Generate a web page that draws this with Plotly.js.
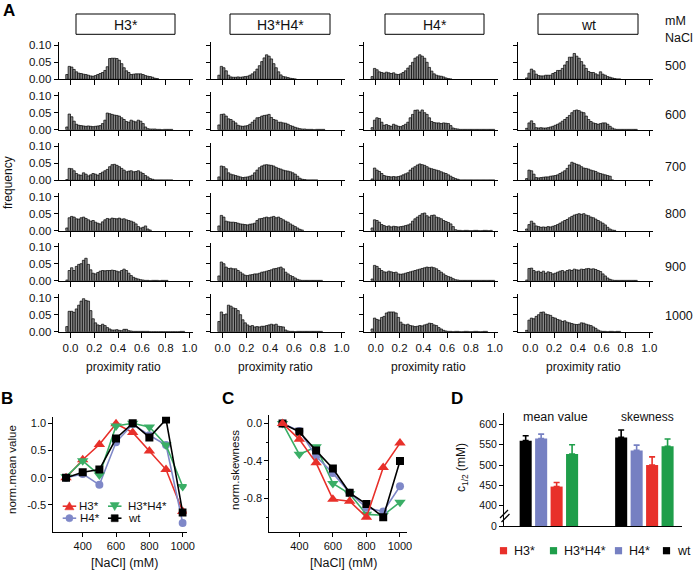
<!DOCTYPE html>
<html><head><meta charset="utf-8">
<script src="https://cdn.plot.ly/plotly-3.0.1.min.js"></script>
<style>html,body{margin:0;padding:0;background:#fff;}#plot{width:697px;height:570px;}</style>
</head><body><div id="plot"></div>
<script>
// ---------- DATA ----------
const groupNames = ['H3*', 'H3*H4*', 'H4*', 'wt'];
const saltLabels = ['500', '600', '700', '800', '900', '1000'];
const binStart = -0.03, binWidth = 0.02;
const xTickVals = [0, 0.2, 0.4, 0.6, 0.8, 1.0];
const yTickVals = [0, 0.05, 0.10];

// histograms (frequency per 0.02 bin, first bin centred at -0.03)
const h3_500 = [0.014,0.038,0.036,0.029,0.022,0.018,0.017,0.015,0.014,0.012,0.010,0.009,0.011,0.014,0.017,0.020,0.026,0.037,0.061,0.062,0.062,0.061,0.056,0.046,0.034,0.025,0.020,0.014,0.015,0.016,0.016,0.016,0.014,0.011,0.009,0.008,0.006,0.003,0.002];
const h3_600 = [0.008,0.046,0.038,0.025,0.016,0.013,0.012,0.011,0.010,0.011,0.010,0.009,0.010,0.011,0.012,0.018,0.028,0.049,0.047,0.045,0.043,0.042,0.040,0.035,0.030,0.024,0.022,0.028,0.025,0.023,0.028,0.025,0.018,0.008,0.003,0.002,0.002,0.002,0.001,0.001,0,0.001,0.001,0.001,0.001];
const h3_700 = [0.002,0.035,0.034,0.028,0.020,0.016,0.015,0.022,0.018,0.013,0.016,0.020,0.018,0.015,0.020,0.024,0.028,0.032,0.040,0.046,0.047,0.044,0.040,0.035,0.030,0.025,0.027,0.028,0.025,0.026,0.028,0.024,0.020,0.014,0.010,0.005,0.003,0.001,0.001,0.001,0.001,0.001,0.001,0.001,0.001];
const h3_800 = [0.008,0.038,0.042,0.040,0.035,0.034,0.038,0.040,0.036,0.032,0.028,0.030,0.025,0.022,0.020,0.026,0.032,0.036,0.034,0.037,0.036,0.035,0.037,0.034,0.035,0.032,0.030,0.028,0.025,0.020,0.012,0.008,0.010,0.014,0.005,0.002];
const h3_900 = [0.002,0.030,0.038,0.030,0.042,0.048,0.050,0.060,0.066,0.048,0.032,0.022,0.020,0.024,0.028,0.030,0.029,0.030,0.030,0.031,0.030,0.028,0.026,0.030,0.034,0.030,0.022,0.015,0.010,0.007,0.005,0.003,0.002,0.001,0.001,0,0.001,0.001,0.001,0,0.001,0.001,0.001];
const h3_1000 = [0.015,0.060,0.060,0.057,0.067,0.078,0.090,0.097,0.092,0.090,0.062,0.038,0.026,0.020,0.018,0.022,0.018,0.012,0.008,0.005,0.005,0.006,0.004,0.003,0.007,0.007,0.003,0.002,0.001,0.001,0.001,0.001,0.001,0.001,0.001,0,0,0,0,0,0,0,0,0,0,0,0,0,0.001,0.001];

const hh_500 = [0.012,0.038,0.034,0.025,0.012,0.007,0.006,0.006,0.007,0.006,0.007,0.008,0.009,0.012,0.016,0.022,0.030,0.040,0.052,0.063,0.072,0.068,0.060,0.046,0.034,0.022,0.013,0.008,0.007,0.005,0.003,0.002,0.001];
const hh_600 = [0.014,0.045,0.046,0.040,0.032,0.030,0.025,0.020,0.013,0.011,0.010,0.011,0.012,0.016,0.022,0.028,0.035,0.036,0.040,0.042,0.043,0.045,0.036,0.030,0.028,0.022,0.022,0.020,0.019,0.016,0.012,0.010,0.007,0.005,0.003,0.002,0.002,0.001,0.001,0.001,0,0.001,0.001,0.001,0.001];
const hh_700 = [0.010,0.042,0.040,0.034,0.022,0.018,0.016,0.014,0.012,0.010,0.008,0.009,0.010,0.012,0.015,0.022,0.030,0.037,0.042,0.045,0.046,0.045,0.044,0.042,0.038,0.035,0.033,0.030,0.028,0.027,0.025,0.022,0.018,0.012,0.006,0.003,0.002,0.001,0.001,0.001,0.001,0.001];
const hh_800 = [0.014,0.045,0.040,0.028,0.026,0.025,0.025,0.024,0.022,0.020,0.019,0.018,0.017,0.019,0.020,0.022,0.030,0.035,0.036,0.038,0.040,0.038,0.040,0.042,0.038,0.040,0.036,0.032,0.028,0.025,0.020,0.016,0.012,0.008,0.004,0.002];
const hh_900 = [0.014,0.055,0.050,0.040,0.036,0.037,0.035,0.035,0.030,0.025,0.020,0.016,0.015,0.017,0.018,0.020,0.020,0.022,0.025,0.026,0.028,0.030,0.032,0.035,0.036,0.038,0.040,0.035,0.025,0.020,0.015,0.012,0.008,0.004,0.002,0.001,0.001,0.001,0.001,0.001,0.001,0.001,0.001,0.001];
const hh_1000 = [0.030,0.058,0.050,0.052,0.078,0.075,0.070,0.068,0.062,0.050,0.035,0.026,0.020,0.016,0.018,0.014,0.015,0.014,0.016,0.016,0.018,0.020,0.022,0.020,0.022,0.016,0.015,0.014,0.005,0.002,0.001,0.001,0,0.001,0.001,0.001,0.001,0.001,0.001,0.001,0.001,0.001,0.001,0.001];

const h4_500 = [0.008,0.032,0.028,0.022,0.020,0.018,0.021,0.019,0.017,0.019,0.015,0.014,0.016,0.020,0.025,0.033,0.040,0.050,0.062,0.066,0.072,0.068,0.062,0.050,0.035,0.024,0.016,0.012,0.010,0.009,0.007,0.004,0.002,0.001];
const h4_600 = [0.006,0.028,0.035,0.033,0.022,0.013,0.015,0.012,0.010,0.016,0.013,0.010,0.009,0.012,0.016,0.022,0.035,0.045,0.057,0.058,0.052,0.058,0.050,0.045,0.035,0.024,0.021,0.020,0.020,0.018,0.020,0.019,0.018,0.012,0.005,0.003,0.002,0.001,0.001,0.001,0.001,0.001,0.001,0.001,0.001,0.001,0.001,0.001,0.001,0.001,0.001,0.001];
const h4_700 = [0.004,0.036,0.030,0.026,0.020,0.014,0.012,0.011,0.010,0.011,0.010,0.011,0.013,0.016,0.019,0.022,0.030,0.036,0.040,0.045,0.048,0.046,0.044,0.040,0.036,0.034,0.032,0.030,0.028,0.025,0.022,0.020,0.016,0.012,0.008,0.005,0.003,0.001,0.001,0.001,0.001,0.001,0.001,0.001,0.001,0.001,0.001,0.001,0.001,0.001,0.001,0.001];
const h4_800 = [0.008,0.032,0.030,0.025,0.018,0.015,0.012,0.014,0.011,0.013,0.012,0.011,0.012,0.013,0.015,0.017,0.020,0.028,0.035,0.040,0.045,0.050,0.052,0.044,0.040,0.045,0.046,0.040,0.038,0.035,0.030,0.027,0.024,0.020,0.012,0.003,0.001,0.001,0,0.001,0.001,0,0,0.001,0.001,0,0,0.001,0.001,0,0.001];
const h4_900 = [0.005,0.045,0.042,0.036,0.030,0.026,0.025,0.028,0.026,0.024,0.025,0.020,0.019,0.020,0.022,0.024,0.026,0.028,0.030,0.032,0.034,0.036,0.038,0.040,0.039,0.040,0.038,0.035,0.030,0.025,0.020,0.015,0.012,0.010,0.006,0.003,0.002,0.001,0.001,0.001,0.001,0.001,0.001,0.001,0.001,0.001,0.001,0.001,0.001,0.001,0.001,0.001];
const h4_1000 = [0.008,0.040,0.036,0.034,0.042,0.045,0.055,0.058,0.058,0.058,0.055,0.042,0.028,0.022,0.020,0.022,0.018,0.017,0.015,0.016,0.018,0.017,0.020,0.022,0.025,0.024,0.020,0.018,0.012,0.008,0.004,0.002,0.001,0.001,0,0.001,0.001,0,0,0.001,0.001,0,0,0.001,0.001,0,0,0.001,0.001];

const wt_500 = [0.004,0.018,0.030,0.025,0.015,0.011,0.010,0.010,0.012,0.012,0.012,0.017,0.020,0.026,0.026,0.032,0.042,0.052,0.065,0.065,0.076,0.068,0.062,0.052,0.042,0.032,0.023,0.020,0.020,0.016,0.013,0.022,0.015,0.012,0.008,0.006,0.004,0.002,0.001,0.001];
const wt_600 = [0.004,0.020,0.026,0.018,0.006,0.005,0.006,0.005,0.005,0.006,0.008,0.010,0.013,0.016,0.020,0.025,0.030,0.036,0.042,0.050,0.056,0.058,0.056,0.052,0.050,0.040,0.030,0.024,0.020,0.018,0.016,0.018,0.020,0.020,0.016,0.010,0.005,0.002,0.001,0.001,0.001,0.001,0.001,0.001,0.001,0.001,0.001];
const wt_700 = [0.005,0.030,0.028,0.018,0.008,0.007,0.008,0.009,0.010,0.010,0.012,0.013,0.014,0.016,0.020,0.024,0.028,0.035,0.045,0.053,0.050,0.047,0.045,0.040,0.036,0.035,0.033,0.030,0.028,0.026,0.022,0.020,0.018,0.016,0.014,0.012,0.001];
const wt_800 = [0.005,0.018,0.028,0.022,0.014,0.012,0.010,0.011,0.010,0.012,0.011,0.013,0.015,0.018,0.022,0.026,0.030,0.033,0.038,0.042,0.046,0.048,0.050,0.048,0.050,0.046,0.044,0.040,0.038,0.034,0.030,0.026,0.022,0.017,0.010,0.005,0.002,0.001];
const wt_900 = [0.002,0.036,0.037,0.030,0.026,0.028,0.024,0.028,0.022,0.026,0.024,0.020,0.022,0.025,0.028,0.030,0.026,0.030,0.032,0.030,0.034,0.032,0.031,0.034,0.033,0.035,0.036,0.034,0.035,0.033,0.030,0.027,0.020,0.014,0.008,0.004,0.002,0.001,0.001,0.001,0.001,0.001,0.001,0.001,0.001,0.001,0.001];
const wt_1000 = [0.004,0.034,0.040,0.038,0.045,0.050,0.057,0.058,0.052,0.050,0.048,0.042,0.040,0.036,0.034,0.030,0.032,0.028,0.026,0.024,0.022,0.021,0.022,0.026,0.025,0.022,0.020,0.018,0.014,0.010,0.005,0.002,0.001,0.001,0,0.001,0.001,0,0.001,0.001];

// panel B / C
const nacl = [300, 400, 500, 600, 700, 800, 900, 1000];
const meanH3   = [0.00, 0.33, 0.61, 0.99, 0.83, 0.49, 0.15, -0.62];
const meanH3H4 = [0.02, 0.31, 0.05, 0.95, 1.00, 0.93, 0.60, -0.16];
const meanH4   = [0.00, 0.07, -0.13, 0.65, 0.98, 0.78, 0.60, -0.83];
const meanWt   = [0.00, 0.10, 0.15, 0.72, 1.00, 0.74, 1.07, -0.64];
const skewH3   = [0.00, -0.17, -0.42, -0.81, -0.83, -1.00, -0.47, -0.21];
const skewH3H4 = [0.00, -0.33, -0.25, -0.64, -0.75, -0.97, -0.98, -0.84];
const skewH4   = [0.00, -0.08, -0.35, -0.53, -0.74, -0.90, -0.94, -0.67];
const skewWt   = [0.00, -0.09, -0.29, -0.48, -0.74, -0.86, -1.00, -0.40];

// panel D (order H3*, H3*H4*, H4*, wt)
const dCategories = ['mean value', 'skewness'];
const cHalfMean    = [447, 527, 565, 560];
const cHalfMeanErr = [10, 23, 11, 12];
const cHalfSkew    = [500, 546, 536, 568];
const cHalfSkewErr = [20, 18, 13, 18];
const dTickVals = [350, 400, 450, 500, 550, 600];
const dTickText = ['0', '400', '450', '500', '550', '600'];

// ---------- LAYOUT HELPERS ----------
const W = 697, H = 570;
const X = v => v / W;
const Y = v => 1 - v / H;
const FONT = 'Liberation Sans, Arial, Helvetica, sans-serif';
const lineColors = ['#e8302a', '#3aae66', '#7f88c8', '#000000'];
const barColors  = ['#e8302a', '#1f9e4a', '#7680c2', '#000000'];
const symbols = ['triangle-up', 'triangle-down', 'circle', 'square'];
const symSize = [10, 10, 8, 8];

const histGrid = [
  [h3_500, hh_500, h4_500, wt_500],
  [h3_600, hh_600, h4_600, wt_600],
  [h3_700, hh_700, h4_700, wt_700],
  [h3_800, hh_800, h4_800, wt_800],
  [h3_900, hh_900, h4_900, wt_900],
  [h3_1000, hh_1000, h4_1000, wt_1000]
];
const colZero = [70.5, 222.6, 375.8, 530.3];
const colScale = 119;
const rowZero = [79.3, 129.7, 180.3, 230.7, 280.7, 331.7];
const rowHeight = 37.4;

const data = [];
const layout = {
  width: W, height: H, margin: {l: 0, r: 0, t: 0, b: 0},
  paper_bgcolor: '#fff', plot_bgcolor: 'rgba(0,0,0,0)',
  showlegend: false, barmode: 'group', bargap: 0.352, bargroupgap: 0.22,
  font: {family: FONT, color: '#111', size: 11},
  annotations: [], shapes: []
};
const axName = (k, i) => k + (i === 1 ? '' : i);

let idx = 0;
for (let r = 0; r < 6; r++) {
  for (let c = 0; c < 4; c++) {
    idx++;
    data.push({
      type: 'bar', x0: binStart, dx: binWidth, width: binWidth, y: histGrid[r][c],
      xaxis: axName('x', idx), yaxis: axName('y', idx),
      marker: {color: '#8a8a8a', line: {color: '#000', width: 0.7}},
      hoverinfo: 'skip', showlegend: false
    });
    layout[axName('xaxis', idx)] = {
      domain: [X(colZero[c] - 0.1 * colScale), X(colZero[c] + 1.03 * colScale)],
      range: [-0.1, 1.03], anchor: axName('y', idx),
      tickvals: xTickVals, ticktext: xTickVals.map(v => v.toFixed(1)),
      showticklabels: r === 5, ticks: 'outside', ticklen: 5, tickwidth: 1, tickcolor: '#000',
      showline: true, linecolor: '#000', linewidth: 1, showgrid: false, zeroline: false,
      tickfont: {size: 11.5, family: FONT, color: '#111'}, fixedrange: true
    };
    layout[axName('yaxis', idx)] = {
      domain: [Y(rowZero[r]), Y(rowZero[r] - rowHeight)],
      range: [0, 0.11], anchor: axName('x', idx),
      tickvals: yTickVals, ticktext: yTickVals.map(v => v.toFixed(2)),
      showticklabels: c === 0, ticks: 'outside', ticklen: 4, tickwidth: 1, tickcolor: '#000',
      showline: true, linecolor: '#000', linewidth: 1, showgrid: false, zeroline: false,
      tickfont: {size: 11.5, family: FONT, color: '#111'}, fixedrange: true
    };
  }
}

// Panel B (axes 25) and C (axes 26)
const meanSeries = [meanH3, meanH3H4, meanH4, meanWt];
const skewSeries = [skewH3, skewH3H4, skewH4, skewWt];
const bOrder = [0, 2, 1, 3];
const cOrder = [1, 2, 3, 0];
bOrder.forEach(g => data.push({
  type: 'scatter', mode: 'lines+markers', x: nacl, y: meanSeries[g], name: groupNames[g],
  xaxis: 'x25', yaxis: 'y25', line: {color: lineColors[g], width: 1.6},
  marker: {symbol: symbols[g], size: symSize[g], color: lineColors[g]}, showlegend: false
}));
cOrder.forEach(g => data.push({
  type: 'scatter', mode: 'lines+markers', x: nacl, y: skewSeries[g], name: groupNames[g],
  xaxis: 'x26', yaxis: 'y26', line: {color: lineColors[g], width: 1.6},
  marker: {symbol: symbols[g], size: symSize[g], color: lineColors[g]}, showlegend: false
}));
const lineAxisCommon = {
  ticks: 'outside', ticklen: 4, tickwidth: 1, tickcolor: '#000', showline: true, linecolor: '#000',
  linewidth: 1, showgrid: false, zeroline: false, fixedrange: true,
  tickfont: {size: 11, family: FONT, color: '#111'}
};
layout.xaxis25 = Object.assign({}, lineAxisCommon, {
  domain: [X(53.3), X(186.7)], range: [223.6, 1024], anchor: 'y25', tickvals: [400, 600, 800, 1000]
});
layout.yaxis25 = Object.assign({}, lineAxisCommon, {
  domain: [Y(531.7), Y(416.7)], range: [-0.99, 1.12], anchor: 'x25',
  tickvals: [-0.5, 0, 0.5, 1.0], ticktext: ['-0.5', '0.0', '0.5', '1.0']
});
layout.xaxis26 = Object.assign({}, lineAxisCommon, {
  domain: [X(269.3), X(406.7)], range: [221, 1040], anchor: 'y26', tickvals: [400, 600, 800, 1000]
});
layout.yaxis26 = Object.assign({}, lineAxisCommon, {
  domain: [Y(531.7), Y(415)], range: [-1.155, 0.09], anchor: 'x26',
  tickvals: [-0.8, -0.4, 0], ticktext: ['-0.8', '-0.4', '0.0'],
  minor: {tickvals: [-1.0, -0.6, -0.2], ticks: 'outside', ticklen: 2.5, tickwidth: 1, tickcolor: '#000', showgrid: false}
});

// Panel D (axes 27)
const dBarOrder = [3, 2, 0, 1];
dBarOrder.forEach(g => data.push({
  type: 'bar', x: [0, 1], y: [cHalfMean[g] - 350, cHalfSkew[g] - 350], base: 350, name: groupNames[g],
  xaxis: 'x27', yaxis: 'y27', marker: {color: barColors[g], line: {width: 0}},
  error_y: {type: 'data', symmetric: false, array: [cHalfMeanErr[g], cHalfSkewErr[g]], arrayminus: [0, 0],
            color: barColors[g], thickness: 1.6, width: 3},
  showlegend: false, hoverinfo: 'skip'
}));
layout.xaxis27 = {
  domain: [X(504), X(682)], range: [-0.47, 1.394], anchor: 'y27', showline: true, linecolor: '#000',
  linewidth: 1, ticks: '', showticklabels: false, showgrid: false, zeroline: false, fixedrange: true
};
layout.yaxis27 = Object.assign({}, lineAxisCommon, {
  domain: [Y(526), Y(413)], range: [350, 628], anchor: 'x27', tickvals: dTickVals, ticktext: dTickText,
  tickfont: {size: 10.5, family: FONT, color: '#111'}
});

// ---------- TEXT ----------
const A = layout.annotations;
function txt(x, y, text, opts) {
  A.push(Object.assign({xref: 'paper', yref: 'paper', x: X(x), y: Y(y), text: text, showarrow: false,
    xanchor: 'center', yanchor: 'middle', font: {family: FONT, size: 12, color: '#111'}}, opts || {}));
}
txt(9, 10, '<b>A</b>', {font: {family: FONT, size: 17, color: '#000'}});
txt(7, 398, '<b>B</b>', {font: {family: FONT, size: 17, color: '#000'}});
txt(228, 398, '<b>C</b>', {font: {family: FONT, size: 17, color: '#000'}});
txt(457, 398, '<b>D</b>', {font: {family: FONT, size: 17, color: '#000'}});

const headerBox = [[76, 175], [230, 330], [385, 484], [538, 638]];
headerBox.forEach((b, i) => {
  layout.shapes.push({type: 'rect', xref: 'paper', yref: 'paper', x0: X(b[0]), x1: X(b[1]), y0: Y(34.3), y1: Y(14),
    line: {color: '#000', width: 1}, fillcolor: 'rgba(0,0,0,0)'});
  txt((b[0] + b[1]) / 2, 24.5, groupNames[i], {font: {family: FONT, size: 14, color: '#111'}});
});
txt(663, 20.5, 'mM', {xanchor: 'left', font: {family: FONT, size: 12.5, color: '#111'}});
txt(663, 38.5, 'NaCl', {xanchor: 'left', font: {family: FONT, size: 12.5, color: '#111'}});
const saltY = [66, 115, 166.5, 214, 267, 316];
saltLabels.forEach((s, i) => txt(663, saltY[i], s, {xanchor: 'left', font: {family: FONT, size: 12.5, color: '#111'}}));
txt(8, 183, 'frequency', {textangle: -90, font: {family: FONT, size: 12, color: '#111'}});
colZero.forEach(x0 => txt(x0 + 53, 367, 'proximity ratio', {font: {family: FONT, size: 12, color: '#111'}}));

txt(12, 470, 'norm.mean value', {textangle: -90, font: {family: FONT, size: 11.5, color: '#111'}});
txt(124, 562.5, '[NaCl] (mM)', {font: {family: FONT, size: 12.5, color: '#111'}});
txt(235, 470, 'norm.skewness', {textangle: -90, font: {family: FONT, size: 11.5, color: '#111'}});
txt(343, 562.5, '[NaCl] (mM)', {font: {family: FONT, size: 12.5, color: '#111'}});
txt(462, 468, 'c<sub>1/2</sub> (mM)', {textangle: -90, font: {family: FONT, size: 12, color: '#111'}});
txt(555, 416.5, dCategories[0], {font: {family: FONT, size: 12.5, color: '#111'}});
txt(647.5, 416.5, dCategories[1], {font: {family: FONT, size: 12, color: '#111'}});

// D axis break marks
[[500, 518, 508, 510], [501.5, 522, 509.5, 514]].forEach(l => layout.shapes.push({
  type: 'line', xref: 'paper', yref: 'paper', x0: X(l[0]), y0: Y(l[1]), x1: X(l[2]), y1: Y(l[3]),
  line: {color: '#000', width: 1.2}}));

// ---------- LEGENDS ----------
function markerShape(g, cx, cy, color) {
  if (g === 0 || g === 1) {
    const w = 4.6, up = g === 0;
    const pts = up ? [[cx - w, cy + 3.6], [cx + w, cy + 3.6], [cx, cy - 4.4]]
                   : [[cx - w, cy - 3.6], [cx + w, cy - 3.6], [cx, cy + 4.4]];
    layout.shapes.push({type: 'path', xref: 'paper', yref: 'paper',
      path: 'M' + pts.map(p => X(p[0]) + ',' + Y(p[1])).join('L') + 'Z', fillcolor: color, line: {color: color, width: 0.5}});
  } else if (g === 2) {
    layout.shapes.push({type: 'circle', xref: 'paper', yref: 'paper', x0: X(cx - 3.6), x1: X(cx + 3.6),
      y0: Y(cy + 3.6), y1: Y(cy - 3.6), fillcolor: color, line: {color: color, width: 0.5}});
  } else {
    layout.shapes.push({type: 'rect', xref: 'paper', yref: 'paper', x0: X(cx - 3.5), x1: X(cx + 3.5),
      y0: Y(cy + 3.5), y1: Y(cy - 3.5), fillcolor: color, line: {color: color, width: 0.5}});
  }
}
// B legend: 2x2
const bLeg = [[0, 62.7, 506.2, 78], [1, 108, 506.2, 127], [2, 62.7, 518.2, 79], [3, 108, 518.2, 127]];
bLeg.forEach(e => {
  const [g, lx, ly, tx] = e;
  layout.shapes.push({type: 'line', xref: 'paper', yref: 'paper', x0: X(lx), x1: X(lx + 13.5), y0: Y(ly), y1: Y(ly),
    line: {color: lineColors[g], width: 1.6}});
  markerShape(g, lx + 6.7, ly, lineColors[g]);
  txt(tx, ly, groupNames[g], {xanchor: 'left', borderpad: 0, font: {family: FONT, size: 11.5, color: '#111'}});
});
// D legend
const dLegSq = [503.5, 553.5, 618.5, 666.5];
dLegSq.forEach((cx, g) => {
  layout.shapes.push({type: 'rect', xref: 'paper', yref: 'paper', x0: X(cx - 3.6), x1: X(cx + 3.6),
    y0: Y(554.3), y1: Y(547.1), fillcolor: barColors[g], line: {width: 0}});
  txt(cx + 8.5, 550.7, groupNames[g], {xanchor: 'left', font: {family: FONT, size: 12.5, color: '#111'}});
});

Plotly.newPlot('plot', data, layout, {staticPlot: true, displayModeBar: false});
</script>
</body></html>
